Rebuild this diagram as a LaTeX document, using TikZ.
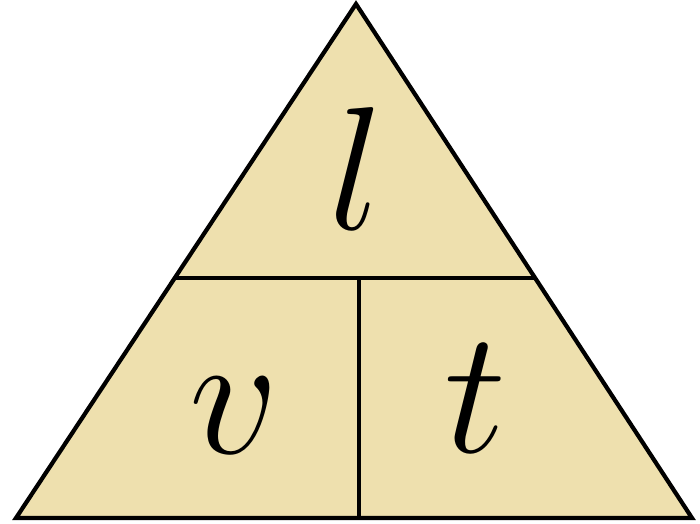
\RequirePackage{fix-cm}
\documentclass[tikz,border=0pt]{standalone}
\usetikzlibrary{calc}

\definecolor{sand}{RGB}{238,224,174}

\begin{document}
\begin{tikzpicture}[line width=2.4pt]
  \tikzset{letter/.style={font=\fontsize{100}{100}\selectfont, inner sep=0pt}}
  \useasboundingbox (0,0) rectangle (14,10.48);
  % triangulo
  \coordinate (A) at (7.12,10.40);
  \coordinate (L) at (0.32,0.12);
  \coordinate (R) at (13.84,0.12);
  \filldraw[fill=sand, line join=miter] (L) -- (A) -- (R) -- cycle;
  % divisiones
  \coordinate (HL) at ($(L)!0.467!(A)$);
  \coordinate (HR) at ($(R)!0.467!(A)$);
  \coordinate (VT) at (7.18,4.92);
  \coordinate (VB) at (7.18,0.12);
  \draw (HL) -- (HR);
  \draw (VT) -- (VB);
  % letras
  \node[letter] (l) at (7.12,7.12) {$l$};
  \node[letter] (v) at (4.68,2.16) {$v$};
  \node[letter] (t) at (9.52,2.52) {$t$};
\end{tikzpicture}
\end{document}
